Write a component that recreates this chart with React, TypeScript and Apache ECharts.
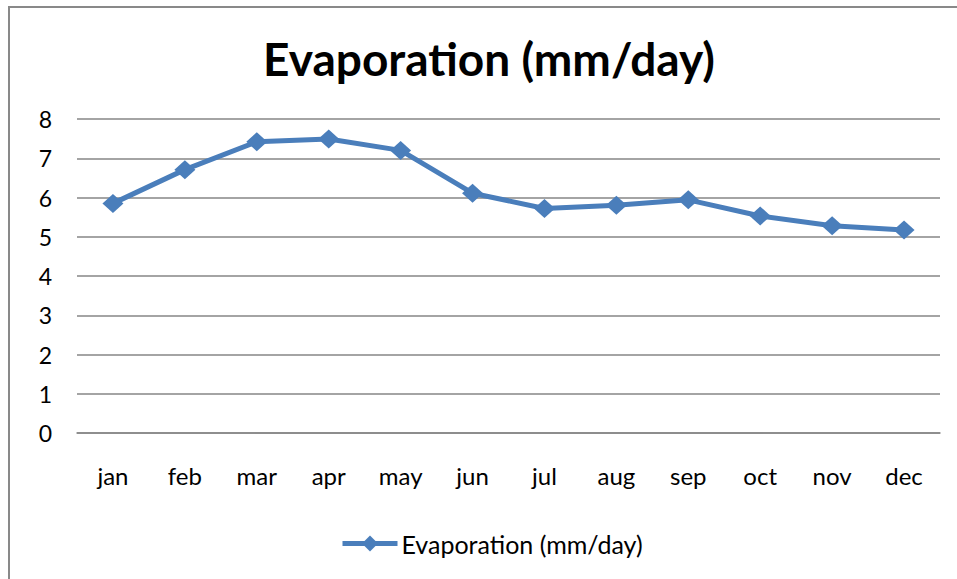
import React, { useEffect, useRef } from "react";
import * as echarts from "echarts";

const months = ["jan", "feb", "mar", "apr", "may", "jun", "jul", "aug", "sep", "oct", "nov", "dec"];
const evaporation = [5.85, 6.71, 7.42, 7.49, 7.2, 6.11, 5.72, 5.8, 5.94, 5.53, 5.28, 5.17];
const seriesName = "Evaporation (mm/day)";
const titleText = "Evaporation (mm/day)";

export default function App() {
  const ref = useRef<HTMLDivElement>(null);
  useEffect(() => {
    document.body.style.margin = "0";
    const chart = echarts.init(ref.current!, null, { renderer: "svg" });
    const font = "Lato, 'Open Sans', sans-serif";
    chart.setOption({
      animation: false,
      backgroundColor: "#ffffff",
      textStyle: { fontFamily: font },
      title: {
        text: titleText,
        left: 484,
        textAlign: "center",
        top: 30,
        textStyle: { fontSize: 46, fontWeight: "bold", color: "#000", fontFamily: font },
      },
      graphic: [
        {
          type: "rect",
          shape: { x: 9, y: 7, width: 1000, height: 700 },
          style: { fill: "none", stroke: "#898989", lineWidth: 2 },
          silent: true,
        },
      ],
      legend: {
        data: [seriesName],
        left: 335,
        top: 526,
        itemWidth: 55,
        itemHeight: 20,
        itemGap: 4,
        lineStyle: { width: 5 },
        textStyle: { fontSize: 25, color: "#000", fontFamily: font, padding: [0, 0, 0, -1] },
      },
      grid: { left: 77, right: 17, top: 119, bottom: 146, containLabel: false },
      xAxis: {
        type: "category",
        data: months,
        boundaryGap: true,
        axisLine: { show: true, lineStyle: { color: "#868686", width: 1.5 } },
        axisTick: { show: false },
        axisLabel: { fontSize: 24, color: "#000", margin: 30, fontFamily: font },
      },
      yAxis: {
        type: "value",
        min: 0,
        max: 8,
        interval: 1,
        axisLine: { show: false },
        axisTick: { show: false },
        axisLabel: { fontSize: 23, color: "#000", margin: 25, fontFamily: font },
        splitLine: { lineStyle: { color: "#868686", width: 1.5 } },
      },
      series: [
        {
          name: seriesName,
          type: "line",
          data: evaporation,
          symbol: "diamond",
          symbolSize: [21, 19],
          lineStyle: { color: "#4a7ebb", width: 5 },
          itemStyle: { color: "#4a7ebb" },
        },
      ],
    });
    return () => chart.dispose();
  }, []);
  return <div ref={ref} style={{ width: 957, height: 579 }} />;
}
